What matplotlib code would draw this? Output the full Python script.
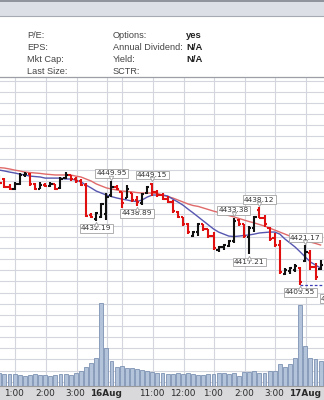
import matplotlib
matplotlib.use("Agg")
import matplotlib.pyplot as plt
from matplotlib.patches import Rectangle
from matplotlib.lines import Line2D
import matplotlib.transforms as mtransforms
import numpy as np

# ---------------- data ----------------
opens = [4452.0, 4451.0, 4447.2, 4446.3, 4448.5, 4452.8, 4453.3, 4448.5, 4446.5, 4448.0,
         4447.6, 4448.6, 4446.8, 4451.2, 4452.6, 4451.0, 4449.8, 4448.0, 4434.8, 4433.0,
         4434.0, 4435.0, 4443.5, 4447.5, 4445.0, 4442.5, 4444.5, 4441.5, 4440.0, 4444.5,
         4448.8, 4445.0, 4443.5, 4442.0, 4440.5, 4436.3, 4433.8, 4430.5, 4425.5, 4427.0,
         4430.5, 4428.5, 4425.5, 4419.0, 4420.3, 4421.0, 4423.0, 4432.5, 4430.5, 4425.0,
         4429.0, 4437.0, 4433.5, 4429.0, 4424.5, 4421.5, 4408.5, 4409.5, 4410.0, 4411.0,
         4414.0, 4417.5, 4411.5, 4410.5]
highs = [4452.9, 4451.3, 4448.5, 4449.5, 4453.6, 4454.0, 4453.6, 4449.1, 4449.6, 4449.1,
         4449.6, 4448.7, 4451.8, 4454.0, 4452.7, 4451.8, 4450.9, 4449.1, 4435.7, 4436.1,
         4440.1, 4444.6, 4449.95, 4448.2, 4445.1, 4448.2, 4444.6, 4443.3, 4444.6, 4447.8,
         4449.15, 4446.0, 4444.6, 4443.3, 4441.5, 4436.5, 4433.9, 4431.2, 4427.6, 4431.2,
         4430.7, 4428.5, 4427.1, 4420.9, 4421.7, 4423.5, 4433.38, 4433.0, 4430.7, 4429.8,
         4434.3, 4438.12, 4434.8, 4429.2, 4426.7, 4423.5, 4411.0, 4411.4, 4412.8, 4411.4,
         4421.17, 4419.1, 4413.2, 4414.6]
lows = [4448.3, 4446.9, 4445.8, 4446.0, 4448.2, 4451.8, 4447.8, 4446.0, 4446.4, 4447.3,
        4447.5, 4446.0, 4446.6, 4450.9, 4450.0, 4449.1, 4447.8, 4433.9, 4433.4, 4432.19,
        4433.4, 4432.6, 4442.8, 4446.0, 4437.9, 4442.4, 4440.6, 4438.89, 4439.2, 4444.2,
        4443.3, 4442.8, 4441.5, 4440.1, 4435.7, 4433.4, 4429.8, 4426.2, 4424.9, 4425.3,
        4427.6, 4424.4, 4419.1, 4418.2, 4419.1, 4420.4, 4422.2, 4429.8, 4424.4, 4417.21,
        4427.1, 4433.4, 4429.4, 4423.1, 4420.4, 4408.3, 4407.8, 4408.3, 4409.2, 4403.55,
        4413.7, 4410.1, 4405.6, 4410.1]
closes = [4449.0, 4447.2, 4446.3, 4448.5, 4452.8, 4453.3, 4448.5, 4446.3, 4448.0, 4447.6,
          4448.6, 4446.5, 4451.0, 4452.8, 4451.0, 4449.8, 4448.2, 4434.5, 4433.8, 4435.6,
          4439.5, 4443.0, 4447.5, 4446.5, 4440.0, 4446.5, 4441.5, 4440.8, 4444.0, 4447.5,
          4445.0, 4443.5, 4442.0, 4440.6, 4436.5, 4434.0, 4430.5, 4427.0, 4427.3, 4430.5,
          4428.5, 4425.5, 4420.0, 4420.5, 4421.3, 4423.0, 4432.0, 4430.8, 4425.5, 4429.0,
          4434.0, 4433.6, 4430.5, 4424.0, 4421.5, 4409.0, 4410.2, 4410.8, 4412.0, 4404.5,
          4418.0, 4411.5, 4407.0, 4412.5]
prior_close = 4452.5

ma_red = [4456.0, 4455.8, 4455.4, 4454.9, 4454.5, 4454.0, 4453.8, 4453.6, 4453.4, 4453.1,
          4452.9, 4452.7, 4452.7, 4452.7, 4452.7, 4452.2, 4451.8, 4450.9, 4450.0, 4448.7,
          4447.8, 4446.9, 4446.4, 4446.0, 4445.5, 4445.3, 4445.1, 4444.8, 4444.6, 4444.6,
          4444.6, 4444.4, 4443.7, 4443.0, 4442.4, 4441.5, 4440.6, 4439.7, 4439.0, 4438.6,
          4437.9, 4437.2, 4436.5, 4435.9, 4435.2, 4434.5, 4433.9, 4433.2, 4432.5, 4431.8,
          4431.2, 4430.5, 4429.8, 4428.9, 4428.0, 4427.1, 4426.2, 4425.3, 4424.7, 4424.0,
          4423.3, 4422.6, 4422.0, 4421.3]
ma_blue = [4454.9, 4454.5, 4454.0, 4453.6, 4453.1, 4452.7, 4452.2, 4452.0, 4451.8, 4451.3,
           4451.3, 4451.3, 4451.3, 4450.9, 4450.9, 4450.4, 4449.6, 4448.2, 4446.9, 4445.5,
           4444.6, 4443.7, 4443.0, 4442.4, 4441.9, 4441.5, 4441.0, 4440.8, 4441.5, 4442.8,
           4443.7, 4443.7, 4443.7, 4443.3, 4441.9, 4440.6, 4439.2, 4437.4, 4435.7, 4433.9,
           4432.1, 4430.3, 4428.5, 4427.1, 4426.2, 4425.3, 4425.1, 4425.3, 4425.6, 4425.8,
           4426.2, 4426.7, 4426.9, 4427.1, 4427.1, 4426.2, 4424.0, 4422.2, 4420.4, 4418.2,
           4415.9, 4413.7, 4412.3, 4411.0]

volume = [12.7, 12.0, 11.7, 11.7, 11.0, 10.0, 10.7, 11.7, 10.7, 10.7,
          10.0, 11.0, 11.7, 11.7, 11.3, 12.7, 15.0, 19.3, 22.7, 27.7,
          82.7, 37.7, 25.3, 19.3, 20.0, 17.7, 17.7, 16.7, 16.0, 15.3,
          14.0, 13.3, 12.7, 12.0, 12.0, 13.3, 12.0, 12.7, 12.0, 11.0,
          11.0, 11.7, 12.0, 12.7, 12.7, 12.0, 13.3, 10.0, 14.3, 14.3,
          15.0, 12.7, 13.3, 15.0, 15.0, 22.0, 19.3, 22.0, 27.7, 81.0,
          40.0, 27.7, 26.7, 25.3]

# annotated swing points: (bar index, price, placed above?)
swing_labels = [(19, 4432.19, False), (22, 4449.95, True), (27, 4438.89, False),
                (30, 4449.15, True), (46, 4433.38, True), (49, 4417.21, False),
                (51, 4438.12, True), (59, 4403.55, False), (60, 4421.17, True)]

# time axis: bar slots at which hour lines fall, and their labels
hour_slots = [3, 9, 15, 21, 24, 30, 36, 42, 48, 54, 60]
hour_labels = ["1:00", "2:00", "3:00", "16Aug", "", "11:00", "12:00", "1:00", "2:00", "3:00", "17Aug"]
hour_bold = [False, False, False, True, False, False, False, False, False, False, True]

info_left = ["P/E:", "EPS:", "Mkt Cap:", "Last Size:"]
info_mid = ["Options:", "Annual Dividend:", "Yield:", "SCTR:"]
info_vals = ["yes", "N/A", "N/A", ""]

# ---------------- figure ----------------
W, H = 324, 400
fig = plt.figure(figsize=(W / 100, H / 100), dpi=100)
fig.patch.set_facecolor("white")


def fy(y):
    return 1 - y / H


# header band
fig.add_artist(Rectangle((0, fy(16)), 1, 16 / H, transform=fig.transFigure,
                         facecolor="#dcdfe6", edgecolor="none"))
fig.add_artist(Line2D([0, 1], [fy(0.6), fy(0.6)], transform=fig.transFigure, color="#80858f", lw=1.2))
fig.add_artist(Line2D([0, 1], [fy(16.3), fy(16.3)], transform=fig.transFigure, color="#a6aab3", lw=0.8))

tfont = dict(family="Liberation Sans", fontsize=6.6, color="#444444")
rows_y = [35, 47.5, 60, 72]
for i, yy in enumerate(rows_y):
    fig.text(27 / W, fy(yy), info_left[i], ha="left", va="center", **tfont)
    fig.text(113 / W, fy(yy), info_mid[i], ha="left", va="center", **tfont)
    if info_vals[i]:
        fig.text(186 / W, fy(yy), info_vals[i], ha="left", va="center", family="Liberation Sans",
                 fontsize=6.8, fontweight="bold", color="#222222")

fig.add_artist(Line2D([0, 1], [fy(77.3), fy(77.3)], transform=fig.transFigure, color="#9c9fa6", lw=0.9))

# bottom label strip
fig.add_artist(Rectangle((0, 0), 1, 14 / H, transform=fig.transFigure,
                         facecolor="#d9d9dc", edgecolor="none"))
fig.add_artist(Line2D([0, 1], [fy(386.3), fy(386.3)], transform=fig.transFigure, color="#9a9a9a", lw=0.8))

# main price axes
top_px, bot_px = 78, 386
ax = fig.add_axes([0, fy(bot_px), 1, (bot_px - top_px) / H])
px_per_unit = 2.23
p_top = 4450 + (181 - top_px) / px_per_unit
p_bot = 4450 - (bot_px - 181) / px_per_unit
ax.set_ylim(p_bot, p_top)
x_left = 0.7 / 5.1
x_right = (W + 0.7) / 5.1
ax.set_xlim(x_left, x_right)

n = len(closes)
x = np.arange(n)
hour_pos = [s + 0.14 for s in hour_slots]

ax.tick_params(length=0, labelbottom=False, labelleft=False)
ax.set_xticks([])
ax.set_yticks([])
for s in ax.spines.values():
    s.set_visible(False)

# volume (twin axes, drawn underneath the price axes)
axv = ax.twinx()
axv.set_ylim(0, bot_px - top_px)
axv.bar(x, volume, width=0.78, color="#b3c3da", edgecolor="#7d92b3", lw=0.6, zorder=1)
axv.set_yticks([])
axv.tick_params(length=0, labelright=False)
for s in axv.spines.values():
    s.set_visible(False)
axv.set_zorder(ax.get_zorder() - 1)
ax.set_zorder(axv.get_zorder() + 1)
ax.patch.set_visible(False)
axv.patch.set_visible(True)
axv.patch.set_facecolor("white")

# grid under the volume bars
trans_grid_h = mtransforms.blended_transform_factory(axv.transAxes, ax.transData)
for p in np.arange(4360, p_top, 5):
    axv.plot([0, 1], [p, p], transform=trans_grid_h, color="#d3d6dd", lw=0.8, zorder=0)
trans_grid_v = mtransforms.blended_transform_factory(ax.transData, axv.transAxes)
for hp in hour_pos:
    axv.plot([hp, hp], [0, 1], transform=trans_grid_v, color="#d3d6dd", lw=0.8, zorder=0)
axv.set_xlim(x_left, x_right)
axv.set_ylim(0, bot_px - top_px)

# moving averages
ax.plot(x, ma_red, color="#e06a6a", lw=1.0, zorder=2)
ax.plot(x, ma_blue, color="#5656b0", lw=1.0, zorder=2)

# OHLC bars
prev = [prior_close] + closes[:-1]
colors = ["#111111" if c > p else "#e01010" for c, p in zip(closes, prev)]
lw_bar = 1.5
tick = 0.45
ax.vlines(x, lows, highs, colors=colors, lw=lw_bar, zorder=3)
ax.hlines(opens, x - tick, x, colors=colors, lw=lw_bar, zorder=3)
ax.hlines(closes, x, x + tick, colors=colors, lw=lw_bar, zorder=3)

# dashed line from last low
ax.hlines(lows[59], x[59], x_right, colors="#3c3cb4", linestyles=(0, (2.2, 1.6)), lw=0.9, zorder=2)

# swing labels
box = dict(boxstyle="square,pad=0.18", fc="white", ec="#a2a2a2", lw=0.6)
for idx, price, above in swing_labels:
    off = 3.4 if above else -3.4
    ax.annotate(f"{price:.2f}", xy=(x[idx], price), xytext=(0, off), textcoords="offset points",
                ha="center", va="bottom" if above else "top", fontsize=5.3, color="#333333",
                family="DejaVu Sans", bbox=box, zorder=5, annotation_clip=False)
    tr = mtransforms.offset_copy(ax.transData, fig=fig, x=0, y=(2.6 if above else -2.6), units="points")
    ax.plot([x[idx]], [price], marker="v" if above else "^", ms=3.2, mfc="white", mec="#a2a2a2",
            mew=0.6, transform=tr, zorder=6, clip_on=False)

# partially visible label at the right edge
ax.text(x[63] + 0.1, 4398.6, "4400.12", ha="left", va="top", fontsize=5.3, color="#333333",
        bbox=box, zorder=5, clip_on=False)

# time labels
for hp, lab, b in zip(hour_pos, hour_labels, hour_bold):
    if not lab:
        continue
    xf = ax.transData.transform((hp, 0))[0] / fig.dpi / fig.get_figwidth()
    fig.text(xf - 1 / W, fy(393.5), lab, ha="center", va="center", fontsize=6.4,
             family="DejaVu Sans", color="#2a2a2a", fontweight="bold" if b else "normal")

fig.savefig("out.png", dpi=100)
